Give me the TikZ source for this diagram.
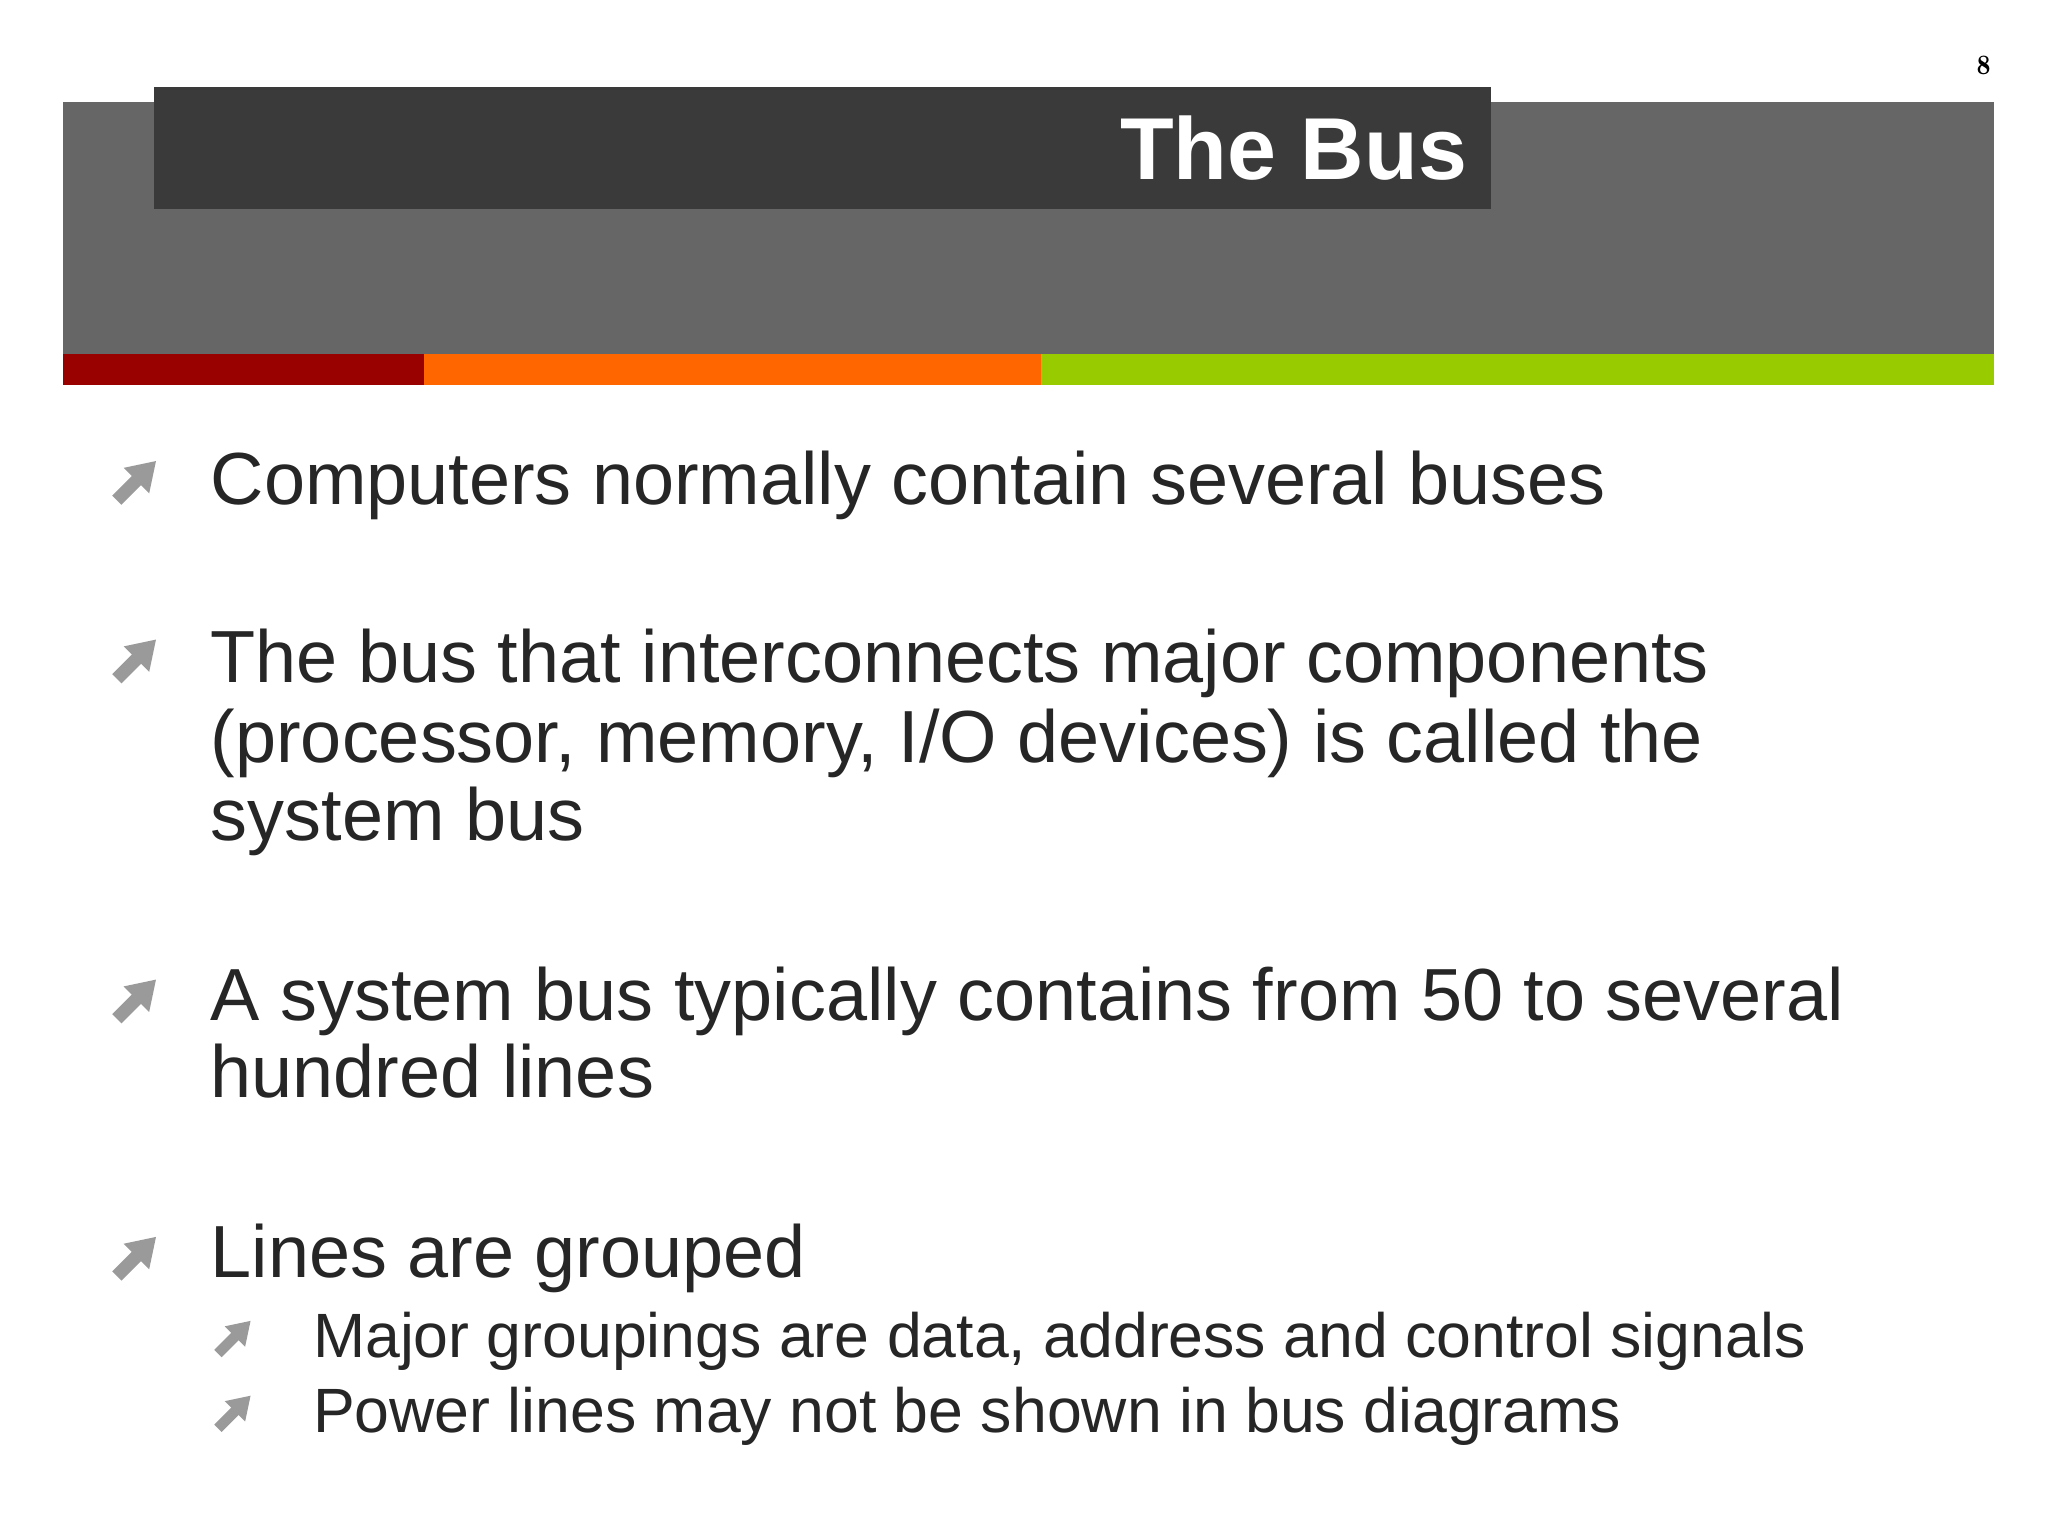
\documentclass[tikz,border=0pt]{standalone}
\usepackage{fontspec}
\setmainfont{Liberation Sans}
\usetikzlibrary{arrows.meta}
\definecolor{txt}{HTML}{262626}
\definecolor{band}{HTML}{666666}
\definecolor{dark}{HTML}{3A3A3A}
\definecolor{ic}{HTML}{9A9A9A}
\definecolor{cred}{HTML}{990000}
\definecolor{corange}{HTML}{FF6600}
\definecolor{cgreen}{HTML}{99CC00}
\tikzset{
  body/.style={anchor=base west,text=txt,font=\fontsize{21}{25}\selectfont,inner sep=0},
  sub/.style={anchor=base west,text=txt,font=\fontsize{17.8}{21}\selectfont,inner sep=0},
  bic/.style={ic,line width=1.3mm/#1,-{Triangle[length=2.8mm/#1,width=3.4mm/#1]}},
}
\begin{document}
\begin{tikzpicture}[x=0.013128cm,y=-0.013128cm]
\useasboundingbox (0,0) rectangle (1560,1170);
\fill[white] (0,0) rectangle (1560,1170);
\fill[band] (48,78) rectangle (1519,270);
\fill[dark] (117,66) rectangle (1136,159);
\node[anchor=base east,text=white,font=\fontsize{25}{30}\selectfont\bfseries,inner sep=0] (title) at (1118,137) {The Bus};
\fill[cred] (48,270) rectangle (323,293);
\fill[corange] (323,270) rectangle (793,293);
\fill[cgreen] (793,270) rectangle (1519,293);
\node[anchor=base,font=\fontfamily{lmr}\selectfont\fontsize{8}{9}\selectfont\bfseries,inner sep=0] (pg) at (1511,57) {8};
\foreach \yy in {367,503,762,958}{\draw[bic=1] (89,\yy+14) -- (119,\yy-16);}
\foreach \yy in {1019,1076}{\draw[bic=1.25] (166,\yy+12) -- (191,\yy-13);}
\node[body] (b1) at (160,384) {Computers normally contain several buses};
\node[body] (b2a) at (160,520) {The bus that interconnects major components};
\node[body] (b2b) at (160,581) {(processor, memory, I/O devices) is called the};
\node[body] (b2c) at (160,640) {system bus};
\node[body] (b3a) at (160,777) {A system bus typically contains from 50 to several};
\node[body] (b3b) at (160,836) {hundred lines};
\node[body] (b4) at (160,973) {Lines are grouped};
\node[sub] (s1) at (238,1034) {Major groupings are data, address and control signals};
\node[sub] (s2) at (238,1091) {Power lines may not be shown in bus diagrams};
\end{tikzpicture}
\end{document}
